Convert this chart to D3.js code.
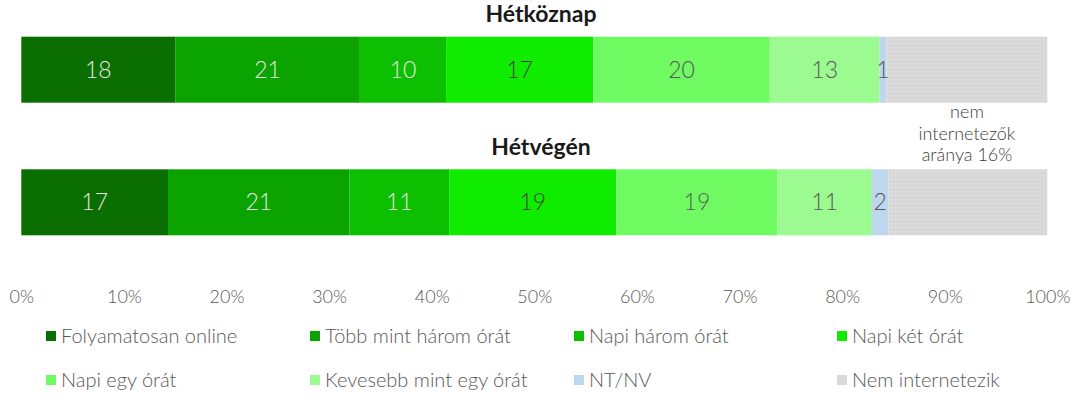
<!DOCTYPE html>
<html lang="hu">
<head>
    <meta charset="UTF-8" />
    <title>Hétköznap / Hétvégén</title>
    <script src="https://d3js.org/d3.v7.js"></script>
    <style>
        body { margin: 0; background: #fff; }
        text { font-family: Lato, "Open Sans", sans-serif; }
    </style>
</head>
<body>
    <script>

        var w = 1080;
        var h = 398;

        // bar titles
        var categories = ["Hétköznap", "Hétvégén"];

        var series = [
            "Folyamatosan online",
            "Több mint három órát",
            "Napi három órát",
            "Napi két órát",
            "Napi egy órát",
            "Kevesebb mint egy órát",
            "NT/NV",
            "Nem internetezik"
        ];

        // segment widths in % of the whole bar
        var weekdayValues = [15.0, 18.0, 8.4, 14.35, 17.2, 10.7, 0.65, 15.7];
        var weekendValues = [14.3, 17.7, 9.7, 16.3, 15.7, 9.2, 1.6, 15.5];

        // numbers printed in the segments
        var weekdayLabels = ["18", "21", "10", "17", "20", "13", "1", ""];
        var weekendLabels = ["17", "21", "11", "19", "19", "11", "2", ""];

        var tickValues = [0, 10, 20, 30, 40, 50, 60, 70, 80, 90, 100];

        var noteLines = ["nem", "internetezők", "aránya 16%"];

        var colors = ["#0a6e00", "#0aa300", "#0cbf00", "#10ec00", "#6efa60", "#9bfa90", "#bdd7ee", "url(#grey)"];
        var legendColors = colors.slice(0, 7).concat(["#d9d9d9"]);
        var labelColors = ["#e6e6e6", "#e6e6e6", "#e6e6e6", "#404040", "#595959", "#595959", "#595959", "#595959"];

        var bars = [
            { title: categories[0], values: weekdayValues, labels: weekdayLabels, y: 36.7, titleY: 22 },
            { title: categories[1], values: weekendValues, labels: weekendLabels, y: 169.3, titleY: 155 }
        ];

        var xScale = d3.scaleLinear()
            .domain([0, 100])
            .range([21.3, 1047.3]);

        var barH = 66;

        var svg = d3.select("body")
            .append("svg")
            .attr("width", w)
            .attr("height", h);

        // light dotted texture for the grey part
        var pat = svg.append("defs").append("pattern")
            .attr("id", "grey")
            .attr("patternUnits", "userSpaceOnUse")
            .attr("width", 4)
            .attr("height", 4);
        pat.append("rect").attr("width", 4).attr("height", 4).attr("fill", "#d9d9d9");
        pat.append("rect").attr("x", 1).attr("y", 1).attr("width", 1).attr("height", 1).attr("fill", "#cdcdcd");
        pat.append("rect").attr("x", 3).attr("y", 3).attr("width", 1).attr("height", 1).attr("fill", "#e2e2e2");

        bars.forEach(function (b) {
            var cum = 0;
            var segs = b.values.map(function (v, i) {
                var s = { start: cum, end: cum + v, i: i, label: b.labels[i] };
                cum += v;
                return s;
            });

            var g = svg.append("g");

            g.selectAll("rect")
                .data(segs)
                .enter()
                .append("rect")
                .attr("x", function (d) { return xScale(d.start); })
                .attr("y", b.y)
                .attr("width", function (d) { return xScale(d.end) - xScale(d.start); })
                .attr("height", barH)
                .attr("fill", function (d) { return colors[d.i]; });

            g.selectAll("text.val")
                .data(segs)
                .enter()
                .append("text")
                .attr("class", "val")
                .attr("x", function (d) { return xScale((d.start + d.end) / 2); })
                .attr("y", b.y + barH / 2 + 8)
                .attr("text-anchor", "middle")
                .attr("font-size", "23px")
                .attr("font-weight", 300)
                .attr("fill", function (d) { return labelColors[d.i]; })
                .text(function (d) { return d.label; });

            svg.append("text")
                .attr("x", 541)
                .attr("y", b.titleY)
                .attr("text-anchor", "middle")
                .attr("font-size", "23px")
                .attr("font-weight", "bold")
                .attr("fill", "#1a1a1a")
                .text(b.title);
        });

        // note above the grey part of the weekend bar
        svg.append("g")
            .selectAll("text")
            .data(noteLines)
            .enter()
            .append("text")
            .attr("x", 967)
            .attr("y", function (d, i) { return 118 + i * 21.5; })
            .attr("text-anchor", "middle")
            .attr("font-size", "18px")
            .attr("font-weight", 300)
            .attr("fill", "#404040")
            .text(function (d) { return d; });

        // x axis
        var xAxis = d3.axisBottom(xScale)
            .tickValues(tickValues)
            .tickSize(0)
            .tickPadding(0)
            .tickFormat(function (d) { return d + "%"; });

        var ax = svg.append("g")
            .attr("transform", "translate(0,290)")
            .call(xAxis);
        ax.select(".domain").remove();
        ax.selectAll("text")
            .attr("font-size", "18px")
            .attr("font-weight", 300)
            .attr("font-family", "Lato, 'Open Sans', sans-serif")
            .attr("fill", "#595959");

        // legend, 2 rows x 4 columns
        var legX = [46, 310, 574, 837];
        var legY = [336, 380];

        var leg = svg.append("g")
            .selectAll("g")
            .data(series)
            .enter()
            .append("g")
            .attr("transform", function (d, i) {
                return "translate(" + legX[i % 4] + "," + legY[Math.floor(i / 4)] + ")";
            });

        leg.append("rect")
            .attr("x", 0)
            .attr("y", -5)
            .attr("width", 10)
            .attr("height", 10)
            .attr("fill", function (d, i) { return legendColors[i]; });

        leg.append("text")
            .attr("x", 15)
            .attr("y", 7)
            .attr("font-size", "20px")
            .attr("font-weight", 300)
            .attr("fill", "#595959")
            .text(function (d) { return d; });
    </script>
</body>
</html>
